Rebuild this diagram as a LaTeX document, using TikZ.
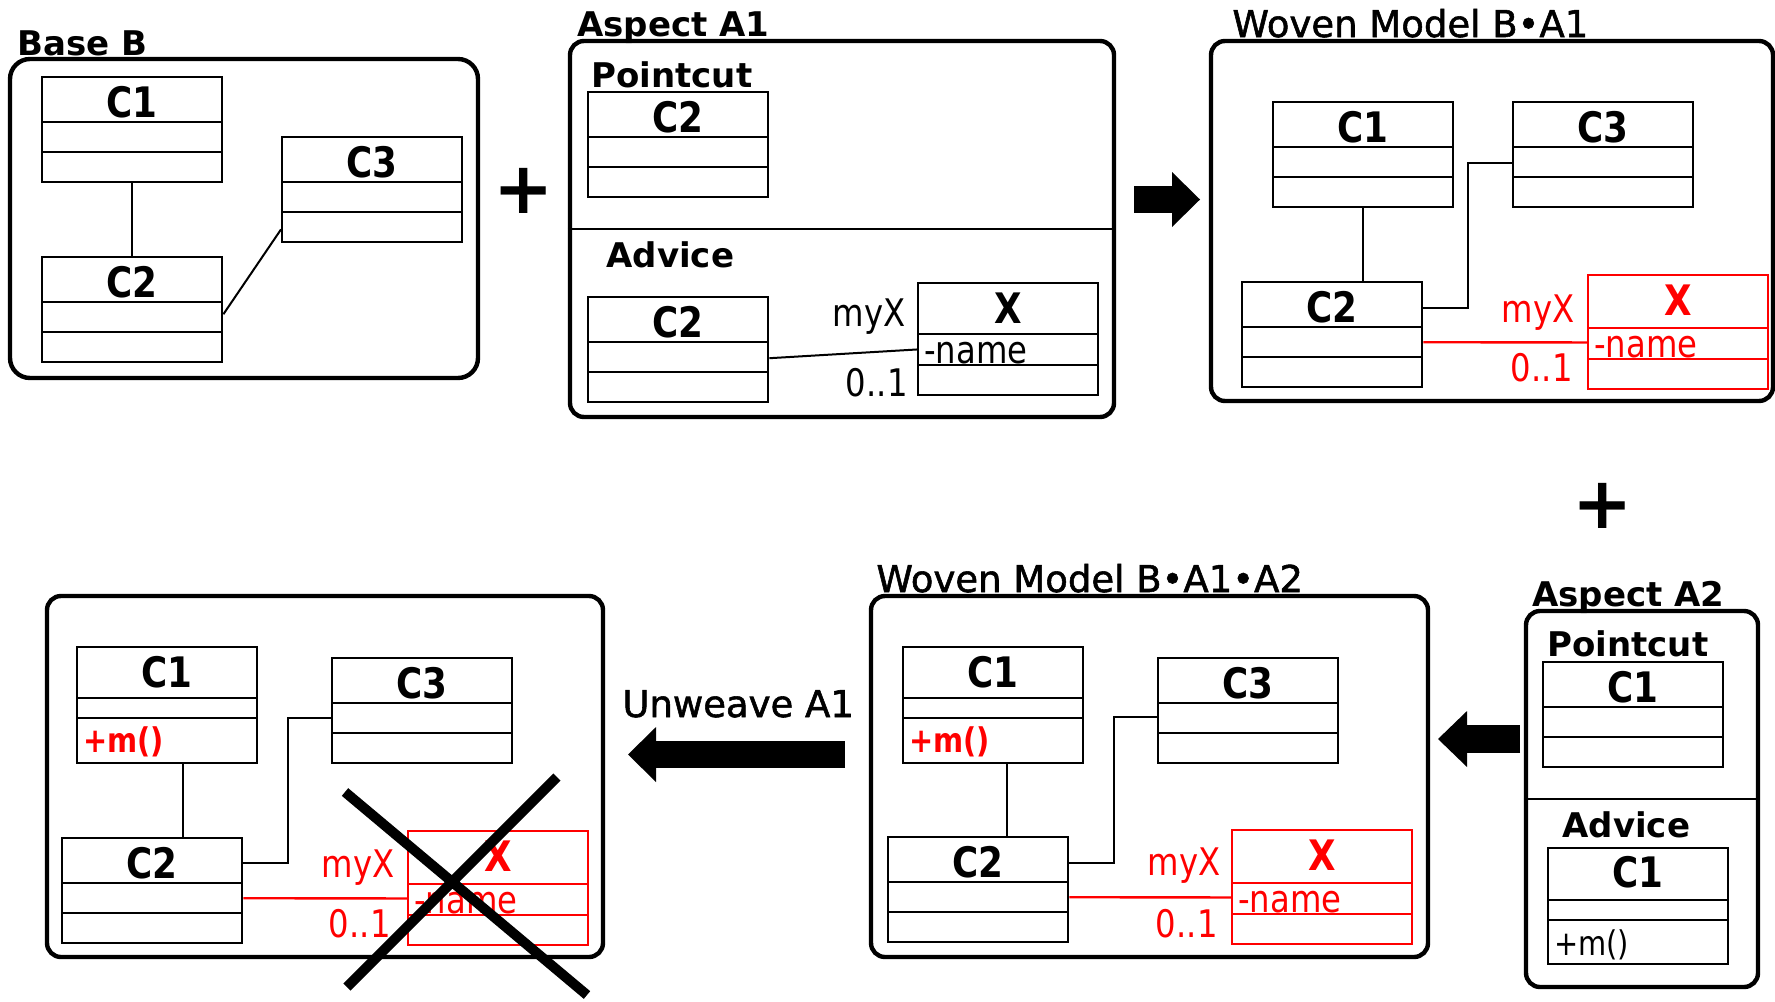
\documentclass[tikz,border=0pt]{standalone}
\usepackage{fontspec}
\setmainfont{DejaVu Sans}
\newfontfamily\narrowfont[FakeStretch=0.85]{DejaVu Sans}
\newfontfamily\medfont[FakeBold=1.5]{DejaVu Sans}
\usetikzlibrary{shapes.multipart,fit,arrows.meta}
\newcommand{\hstrut}[2]{\rule[-#2pt]{0pt}{\dimexpr#1pt-1.2pt\relax}}
\newcommand{\cname}[1]{{\fontsize{21}{24}\selectfont\bfseries #1}}
\newcommand{\opname}[1]{{\fontsize{17}{20}\selectfont #1}}
\newcommand{\plaincls}[1]{\hstrut{22.5}{2}\cname{#1}\nodepart{two}\hstrut{15}{0}\nodepart{three}\hstrut{15}{0}}
\newcommand{\xcls}[2]{\hstrut{#1}{#2}\cname{X}\nodepart{two}\hstrut{15}{0}-name\nodepart{three}\hstrut{15}{0}}
\begin{document}
\begin{tikzpicture}[x=0.5pt, y=-0.5pt,
    modelbox/.style={draw, line width=2.2pt, rounded corners=7pt, inner sep=0pt},
    boxtitle/.style={anchor=base west, inner sep=0pt, font=\bfseries\fontsize{17}{20}\selectfont},
    wtitle/.style={anchor=base west, inner sep=0pt, font=\medfont\fontsize{18.5}{22}\selectfont},
    cls/.style={rectangle split, rectangle split parts=3, rectangle split part align={center,left,left},
      draw, line width=1.2pt, minimum width=90pt, inner xsep=3pt, inner ysep=0pt, anchor=north west,
      font=\narrowfont\fontsize{19}{22}\selectfont},
    ext/.style={cls, draw=red, text=red},
    role/.style={anchor=base east, inner sep=0pt, font=\narrowfont\fontsize{19}{22}\selectfont},
    assoc/.style={line width=1pt},
    plus/.style={inner sep=0pt, font=\bfseries\fontsize{36}{36}\selectfont},
    bigarrow/.style={line width=13.5pt, -{Triangle[length=14pt, width=27.5pt, line width=0pt]}}]
  \useasboundingbox (0,0) rectangle (1775,1001);

  \node[boxtitle] (tb) at (17,55) {Base B};
  \node[modelbox, rounded corners=10pt, fit={(10,59) (478,378)}] (base) {};
  \node[cls] (b1) at (41,76) {\plaincls{C1}};
  \node[cls] (b3) at (281,136) {\plaincls{C3}};
  \node[cls] (b2) at (41,256) {\plaincls{C2}};
  \draw[assoc] (b1) -- (b2);
  \draw[assoc] ([yshift=-2.25pt]b2.east) -- ([yshift=7pt]b3.south west);

  \node[plus] (p1) at (524,191) {+};

  \node[boxtitle] (ta1) at (577,36) {Aspect A1};
  \node[modelbox, fit={(570,41) (1114,417)}] (asp1) {};
  \draw[line width=1.2pt] (asp1.west |- 0,229) -- (asp1.east |- 0,229);
  \node[boxtitle] (pc1) at (591,87) {Pointcut};
  \node[cls] (a1) at (587,91) {\plaincls{C2}};
  \node[boxtitle] (ad1) at (606,267) {Advice};
  \node[cls] (a2) at (587,296) {\plaincls{C2}};
  \node[cls] (ax) at (917,282) {\xcls{25.5}{5}};
  \draw[assoc] ([yshift=-4.25pt]a2.east) -- ([yshift=-5.25pt]ax.west);
  \node[role] (amy) at (906,326) {myX};
  \node[role] (amul) at (908,396) {0..1};

  \coordinate (r1) at (1134,199.5);
  \coordinate (r2) at (1200,199.5);
  \draw[bigarrow] (r1) -- (r2);

  \node[wtitle] (tw1) at (1232,37) {Woven Model B•A1};
  \node[modelbox, fit={(1211,41) (1773,401)}] (wov1) {};
  \node[cls] (w1) at (1272,101) {\plaincls{C1}};
  \node[cls] (w3) at (1512,101) {\plaincls{C3}};
  \node[cls] (w2) at (1241,281) {\plaincls{C2}};
  \node[ext] (wx) at (1587,274) {\xcls{26.5}{6}};
  \draw[assoc] (w1) -- (w1 |- w2.north);
  \draw[assoc] ([yshift=13.25pt]w2.east) -- ++(45,0) |- ([yshift=-4.25pt]w3.west);
  \draw[assoc, red, line width=1.2pt] ([yshift=-3.75pt]w2.east) -- ([yshift=-5.25pt]wx.west);
  \node[role, red] (wmy) at (1575,322) {myX};
  \node[role, red] (wmul) at (1573,381) {0..1};

  \node[plus] (p2) at (1603,506) {+};

  \node[boxtitle] (ta2) at (1532,606) {Aspect A2};
  \node[modelbox, fit={(1526,611) (1758,987)}] (asp2) {};
  \draw[line width=1.2pt] (asp2.west |- 0,799) -- (asp2.east |- 0,799);
  \node[boxtitle] (pc2) at (1547,656.5) {Pointcut};
  \node[cls] (q1) at (1542,661) {\plaincls{C1}};
  \node[boxtitle] (ad2) at (1562,837) {Advice};
  \node[cls] (q2) at (1547,847) {\hstrut{26}{6}\cname{C1}\nodepart{two}\hstrut{9.75}{0}\nodepart{three}\hstrut{22}{3.5}\opname{+m()}};

  \coordinate (s1) at (1520,739);
  \coordinate (s2) at (1438,739);
  \draw[bigarrow, line width=13.75pt, -{Triangle[length=14.5pt, width=28pt, line width=0pt]}] (s1) -- (s2);

  \node[wtitle] (tw2) at (876,592) {Woven Model B•A1•A2};
  \node[modelbox, fit={(871,596) (1428,957)}] (wov2) {};
  \node[cls] (m1) at (902,646) {\hstrut{25.5}{5}\cname{C1}\nodepart{two}\hstrut{10}{0}\nodepart{three}\hstrut{22.5}{5}\textcolor{red}{\bfseries\opname{+m()}}};
  \node[cls] (m3) at (1157,657) {\plaincls{C3}};
  \node[cls] (m2) at (887,836) {\plaincls{C2}};
  \node[ext] (mx) at (1231,829) {\xcls{26.5}{6}};
  \draw[assoc] ([xshift=7pt]m1.south) -- ([xshift=14.5pt]m2.north);
  \draw[assoc] ([yshift=13.25pt]m2.east) -- ++(45,0) |- ([yshift=-3.25pt]m3.west);
  \draw[assoc, red, line width=1.2pt] ([yshift=-3.75pt]m2.east) -- ([yshift=-5.25pt]mx.west);
  \node[role, red] (mmy) at (1221,875) {myX};
  \node[role, red] (mmul) at (1218,937) {0..1};

  \node[wtitle] (tu) at (622,717) {Unweave A1};
  \coordinate (u1) at (845,754.5);
  \coordinate (u2) at (628,754.5);
  \draw[bigarrow] (u1) -- (u2);

  \node[modelbox, fit={(47,596) (603,957)}] (lft) {};
  \node[cls] (l1) at (76,646) {\hstrut{25.5}{5}\cname{C1}\nodepart{two}\hstrut{10}{0}\nodepart{three}\hstrut{22.5}{5}\textcolor{red}{\bfseries\opname{+m()}}};
  \node[cls] (l3) at (331,657) {\plaincls{C3}};
  \node[cls] (l2) at (61,837) {\plaincls{C2}};
  \node[ext] (lx) at (407,830) {\xcls{26.5}{6}};
  \draw[assoc] ([xshift=8pt]l1.south) -- ([xshift=15.5pt]l2.north);
  \draw[assoc] ([yshift=13.75pt]l2.east) -- ++(45,0) |- ([yshift=-3.75pt]l3.west);
  \draw[assoc, red, line width=1.2pt] ([yshift=-3.75pt]l2.east) -- ([yshift=-5.25pt]lx.west);
  \node[role, red] (lmy) at (395,877) {myX};
  \node[role, red] (lmul) at (391,937) {0..1};
  \draw[line width=5pt] (345,792) -- (587,995) (557,777) -- (347,987);
\end{tikzpicture}
\end{document}
